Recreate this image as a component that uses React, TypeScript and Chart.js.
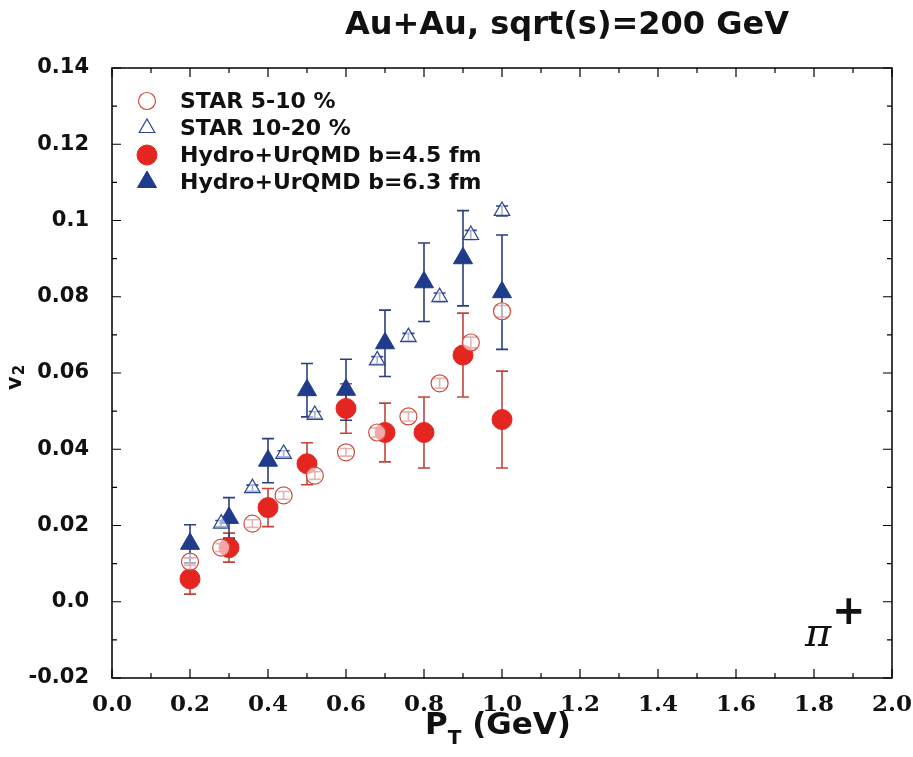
import { useEffect, useRef } from "react";
import { Chart, registerables } from "chart.js";
Chart.register(...registerables);

// STAR 5-10 % (open red circles)
const star510Pt = [0.2, 0.28, 0.36, 0.44, 0.52, 0.6, 0.68, 0.76, 0.84, 0.92, 1.0];
const star510V2 = [0.0105, 0.0142, 0.0205, 0.0279, 0.0331, 0.0392, 0.0444, 0.0486, 0.0573, 0.068, 0.0762];
const star510Err = [0.001, 0.001, 0.001, 0.001, 0.001, 0.001, 0.0012, 0.0012, 0.0013, 0.0014, 0.0015];

// STAR 10-20 % (open blue triangles)
const star1020Pt = [0.28, 0.36, 0.44, 0.52, 0.68, 0.76, 0.84, 0.92, 1.0];
const star1020V2 = [0.0205, 0.0298, 0.0388, 0.049, 0.0633, 0.0694, 0.0799, 0.0962, 0.1025];
const star1020Err = [0.0008, 0.0008, 0.0008, 0.0009, 0.001, 0.001, 0.0011, 0.0012, 0.0013];

// Hydro+UrQMD b=4.5 fm (filled red circles)
const hydro45Pt = [0.2, 0.3, 0.4, 0.5, 0.6, 0.7, 0.8, 0.9, 1.0];
const hydro45V2 = [0.006, 0.0142, 0.0247, 0.0362, 0.0507, 0.0444, 0.0444, 0.0647, 0.0478];
const hydro45Err = [0.004, 0.0038, 0.005, 0.0055, 0.0065, 0.0077, 0.0093, 0.011, 0.0127];

// Hydro+UrQMD b=6.3 fm (filled blue triangles)
const hydro63Pt = [0.2, 0.3, 0.4, 0.5, 0.6, 0.7, 0.8, 0.9, 1.0];
const hydro63V2 = [0.0152, 0.022, 0.037, 0.0555, 0.0556, 0.0678, 0.0838, 0.0901, 0.0812];
const hydro63Err = [0.005, 0.0053, 0.0058, 0.007, 0.008, 0.0087, 0.0103, 0.0125, 0.015];

const xTickLabels = ["0.0", "0.2", "0.4", "0.6", "0.8", "1.0", "1.2", "1.4", "1.6", "1.8", "2.0"];
const yTickLabels = ["-0.02", "0.0", "0.02", "0.04", "0.06", "0.08", "0.1", "0.12", "0.14"];

const legendLabels = ["STAR 5-10 %", "STAR 10-20 %", "Hydro+UrQMD b=4.5 fm", "Hydro+UrQMD b=6.3 fm"];
const titleText = "Au+Au, sqrt(s)=200 GeV";

const RED = "#e52520";
const RED_BAR = "#c2453c";
const BLUE = "#1f3b8c";
const BLUE_BAR = "#2b3f7e";

function pts(x: number[], y: number[], e: number[]) {
  return x.map((v, i) => ({ x: v, y: y[i], e: e[i] }));
}

const decorPlugin = {
  id: "decor",
  beforeDatasetsDraw(chart: any) {
    const ctx = chart.ctx;
    const xs = chart.scales.x;
    const ys = chart.scales.y;
    chart.data.datasets.forEach((ds: any) => {
      ctx.save();
      ctx.strokeStyle = ds.barColor;
      ctx.lineWidth = 1.6;
      ds.data.forEach((p: any) => {
        const px = xs.getPixelForValue(p.x);
        const y1 = ys.getPixelForValue(p.y - p.e);
        const y2 = ys.getPixelForValue(p.y + p.e);
        ctx.beginPath();
        ctx.moveTo(px, y1);
        ctx.lineTo(px, y2);
        ctx.moveTo(px - 6, y1);
        ctx.lineTo(px + 6, y1);
        ctx.moveTo(px - 6, y2);
        ctx.lineTo(px + 6, y2);
        ctx.stroke();
      });
      ctx.restore();
    });
  },
  afterDraw(chart: any) {
    const ctx = chart.ctx;
    const a = chart.chartArea;
    const xs = chart.scales.x;
    const ys = chart.scales.y;
    ctx.save();
    // frame
    ctx.strokeStyle = "#000";
    ctx.lineWidth = 1.5;
    ctx.strokeRect(a.left, a.top, a.right - a.left, a.bottom - a.top);
    // ticks
    ctx.lineWidth = 1.2;
    ctx.beginPath();
    for (let i = 0; i <= 20; i++) {
      const v = i * 0.1;
      const px = xs.getPixelForValue(v);
      const len = i % 2 === 0 ? 9 : 5;
      ctx.moveTo(px, a.bottom);
      ctx.lineTo(px, a.bottom - len);
      ctx.moveTo(px, a.top);
      ctx.lineTo(px, a.top + len);
    }
    for (let i = 0; i <= 16; i++) {
      const v = -0.02 + i * 0.01;
      const py = ys.getPixelForValue(v);
      const len = i % 2 === 0 ? 9 : 5;
      ctx.moveTo(a.left, py);
      ctx.lineTo(a.left + len, py);
      ctx.moveTo(a.right, py);
      ctx.lineTo(a.right - len, py);
    }
    ctx.stroke();

    // legend
    const ds = chart.data.datasets;
    const rowsY = [101, 128, 155, 182];
    ctx.font = "bold 22px 'DejaVu Sans'";
    ctx.textBaseline = "middle";
    ctx.textAlign = "left";
    ds.forEach((d: any, i: number) => {
      const cx = 147;
      const cy = rowsY[i];
      ctx.save();
      ctx.fillStyle = d.pointBackgroundColor;
      ctx.strokeStyle = d.pointBorderColor;
      ctx.lineWidth = d.pointBorderWidth;
      const r = d.pointRadius;
      ctx.beginPath();
      if (d.pointStyle === "circle") {
        ctx.arc(cx, cy, r, 0, Math.PI * 2);
      } else {
        const h = r;
        ctx.moveTo(cx, cy - h);
        ctx.lineTo(cx + Math.sin((2 * Math.PI) / 3) * h, cy - Math.cos((2 * Math.PI) / 3) * h);
        ctx.lineTo(cx + Math.sin((4 * Math.PI) / 3) * h, cy - Math.cos((4 * Math.PI) / 3) * h);
        ctx.closePath();
      }
      ctx.fill();
      ctx.stroke();
      ctx.restore();
      ctx.fillStyle = "#111";
      ctx.fillText(legendLabels[i], 180, cy + 1);
    });

    // title
    ctx.fillStyle = "#111";
    ctx.font = "bold 32px 'DejaVu Sans'";
    ctx.textAlign = "center";
    ctx.textBaseline = "alphabetic";
    ctx.fillText(titleText, 567, 34);

    // x-axis title P_T (GeV)
    const big = "bold 31px 'DejaVu Sans'";
    const small = "bold 20px 'DejaVu Sans'";
    ctx.font = big;
    const wP = ctx.measureText("P").width;
    const wRest = ctx.measureText(" (GeV)").width;
    ctx.font = small;
    const wT = ctx.measureText("T").width;
    const x0 = 498 - (wP + wT + wRest) / 2;
    ctx.textAlign = "left";
    ctx.font = big;
    ctx.fillText("P", x0, 734);
    ctx.font = small;
    ctx.fillText("T", x0 + wP, 744);
    ctx.font = big;
    ctx.fillText(" (GeV)", x0 + wP + wT, 734);

    // y-axis title v2
    ctx.save();
    ctx.translate(21, 390);
    ctx.rotate(-Math.PI / 2);
    ctx.font = "bold 21px 'DejaVu Sans'";
    ctx.fillText("v", 0, 0);
    const wv = ctx.measureText("v").width;
    ctx.font = "bold 15px 'DejaVu Sans'";
    ctx.fillText("2", wv + 1, 3);
    ctx.restore();

    // pi+
    ctx.font = "italic 40px 'DejaVu Serif'";
    ctx.fillText("\u03c0", 805, 646);
    ctx.font = "bold 40px 'DejaVu Sans'";
    ctx.fillText("+", 832, 624);
    ctx.restore();
  },
};

export default function App() {
  const ref = useRef<HTMLCanvasElement | null>(null);
  useEffect(() => {
    if (!ref.current) return;
    const chart = new Chart(ref.current, {
      type: "scatter",
      data: {
        datasets: [
          {
            label: legendLabels[0],
            data: pts(star510Pt, star510V2, star510Err),
            pointStyle: "circle",
            pointRadius: 8.5,
            pointBackgroundColor: "rgba(255,255,255,0.6)",
            pointBorderColor: "#cf4a3c",
            pointBorderWidth: 1.2,
            barColor: "#b8463c",
          } as any,
          {
            label: legendLabels[1],
            data: pts(star1020Pt, star1020V2, star1020Err),
            pointStyle: "triangle",
            pointRadius: 9,
            pointBackgroundColor: "rgba(255,255,255,0.6)",
            pointBorderColor: "#2c4590",
            pointBorderWidth: 1.2,
            barColor: "#2c4590",
          } as any,
          {
            label: legendLabels[2],
            data: pts(hydro45Pt, hydro45V2, hydro45Err),
            pointStyle: "circle",
            pointRadius: 10,
            pointBackgroundColor: RED,
            pointBorderColor: RED,
            pointBorderWidth: 1,
            barColor: RED_BAR,
          } as any,
          {
            label: legendLabels[3],
            data: pts(hydro63Pt, hydro63V2, hydro63Err),
            pointStyle: "triangle",
            pointRadius: 11,
            pointBackgroundColor: BLUE,
            pointBorderColor: BLUE,
            pointBorderWidth: 1,
            barColor: BLUE_BAR,
          } as any,
        ],
      },
      options: {
        responsive: false,
        animation: false,
        devicePixelRatio: 1,
        layout: { padding: { left: 0, top: 68, right: 21, bottom: 0 } },
        plugins: { legend: { display: false }, tooltip: { enabled: false }, title: { display: false } },
        scales: {
          x: {
            type: "linear",
            min: 0,
            max: 2,
            afterFit: (s: any) => {
              s.height = 79;
              s.paddingRight = 0;
              s.paddingLeft = 0;
            },
            grid: { display: false },
            border: { display: false },
            ticks: {
              stepSize: 0.2,
              padding: 5,
              color: "#111",
              font: { family: "'DejaVu Serif'", weight: "bold", size: 23 },
              maxRotation: 0,
              callback: (v: any) => xTickLabels[Math.round(Number(v) / 0.2)] ?? "",
            },
          },
          y: {
            type: "linear",
            min: -0.02,
            max: 0.14,
            afterFit: (s: any) => {
              s.width = 112;
              s.paddingTop = 0;
              s.paddingBottom = 0;
            },
            grid: { display: false },
            border: { display: false },
            ticks: {
              stepSize: 0.02,
              padding: 15,
              color: "#111",
              font: { family: "'DejaVu Sans'", weight: "bold", size: 21 },
              callback: (v: any) => yTickLabels[Math.round((Number(v) + 0.02) / 0.02)] ?? "",
            },
          },
        },
      },
      plugins: [decorPlugin],
    });
    return () => chart.destroy();
  }, []);
  return (
    <div style={{ position: "fixed", left: 0, top: 0, background: "#fff" }}>
      <canvas ref={ref} width={913} height={757} style={{ display: "block" }} />
    </div>
  );
}
